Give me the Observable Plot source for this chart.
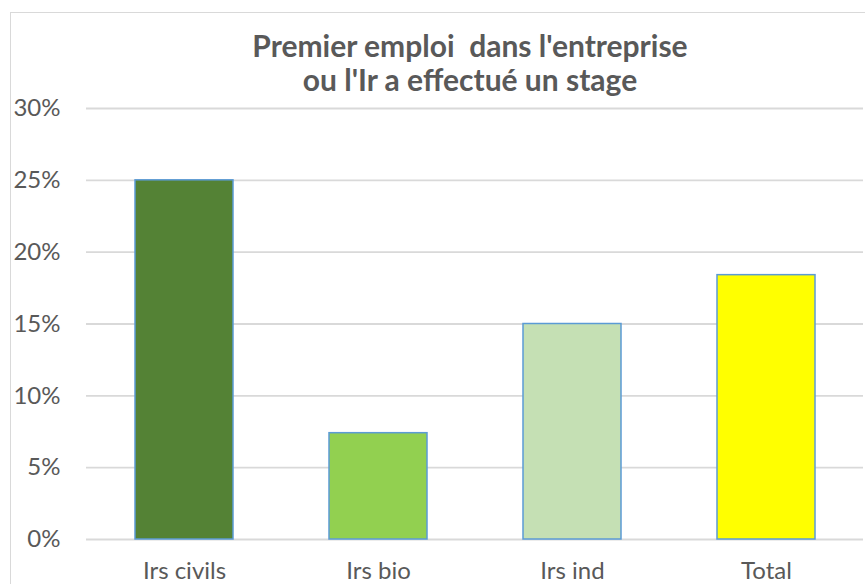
<!DOCTYPE html>
<html>
<head>
<meta charset="utf-8">
<script src="https://cdn.jsdelivr.net/npm/d3@7"></script>
<script src="https://cdn.jsdelivr.net/npm/@observablehq/plot@0.6"></script>
<style>
  html, body { margin: 0; padding: 0; background: #fff; }
  #wrap { position: relative; width: 865px; height: 584px; overflow: hidden; font-family: Lato, "Open Sans", sans-serif; }
  #frame { position: absolute; left: 10px; top: 12px; width: 870px; height: 600px; border: 1px solid #d9d9d9; box-sizing: border-box; }
  #chart { position: absolute; left: 0; top: 70px; }
  #title { position: absolute; left: 0; top: 28px; width: 940px; text-align: center; font-weight: bold; font-size: 30px; line-height: 34px; color: #595959; z-index: 2; }
</style>
</head>
<body>
<div id="wrap">
  <div id="frame"></div>
  <div id="chart"></div>
  <div id="title">Premier emploi&nbsp; dans l'entreprise<br>ou l'Ir a effectué un stage</div>
</div>
<script>
const categories = ["Irs civils", "Irs bio", "Irs ind", "Total"];
const values = [0.25, 0.074, 0.15, 0.184];
const colors = ["#548235", "#92D050", "#C5E0B4", "#FFFF00"];
const yTicks = [0, 0.05, 0.10, 0.15, 0.20, 0.25, 0.30];

const data = categories.map((c, i) => ({category: c, value: values[i], color: colors[i]}));

const chart = Plot.plot({
  width: 865,
  height: 514,
  marginTop: 38,
  marginBottom: 45,
  marginLeft: 86,
  marginRight: 2,
  style: {fontFamily: "Lato, 'Open Sans', sans-serif", fontSize: "24px", color: "#595959", background: "transparent"},
  x: {domain: categories, paddingInner: 0.495, paddingOuter: 0.25, label: null},
  y: {domain: [0, 0.30], label: null},
  marks: [
    Plot.ruleY(yTicks, {stroke: "#d9d9d9", strokeWidth: 1.8}),
    Plot.barY(data, {x: "category", y: "value", fill: "color", stroke: "#5B9BD5", strokeWidth: 1.5}),
    Plot.axisY(yTicks, {tickSize: 0, tickPadding: 26, tickFormat: d3.format(".0%"), fontSize: 24, fill: "#595959", label: null}),
    Plot.axisX({tickSize: 0, tickPadding: 22, fontSize: 24, fill: "#595959", label: null})
  ]
});
document.getElementById("chart").appendChild(chart);
</script>
</body>
</html>
